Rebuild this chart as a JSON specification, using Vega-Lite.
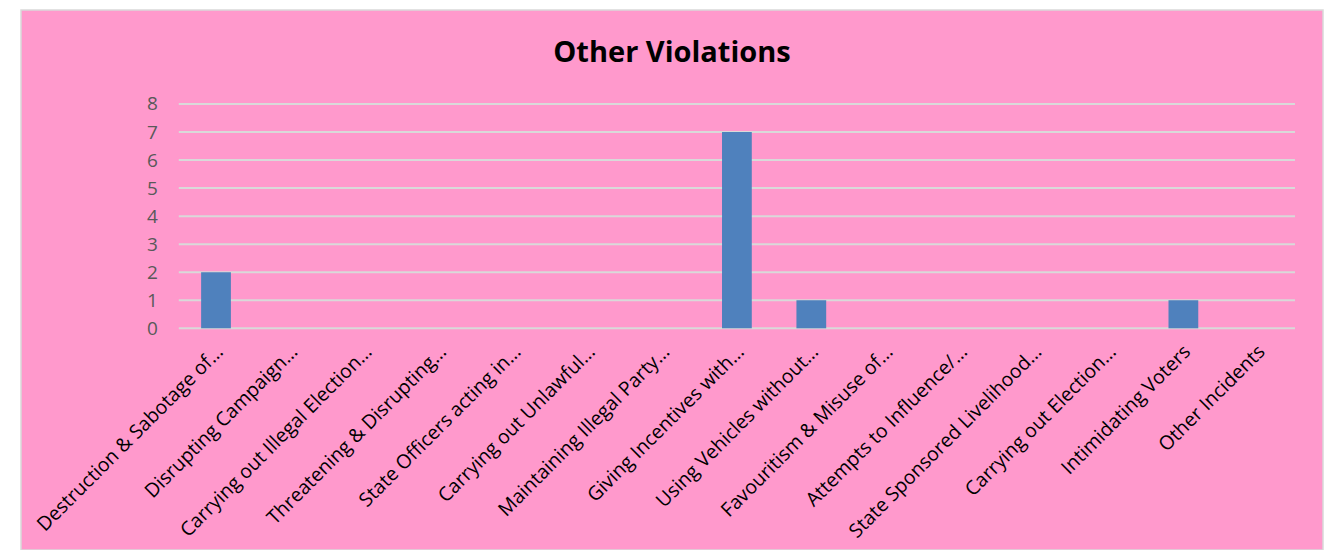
{
  "$schema": "https://vega.github.io/schema/vega-lite/v6.json",
  "width": 1302,
  "height": 540,
  "autosize": {"type": "none"},
  "padding": {"left": 21, "top": 10, "right": 19, "bottom": 0},
  "background": "#FFFFFF",
  "view": {"fill": "#FF99CC", "stroke": "#D9D9D9", "strokeWidth": 1.5},
  "title": {
    "text": "Other Violations",
    "anchor": "middle",
    "frame": "group",
    "font": "Open Sans",
    "fontSize": 29,
    "fontWeight": "bold",
    "color": "#000000",
    "baseline": "alphabetic",
    "offset": -81
  },
  "datasets": {
    "bars": [
      {"category": "Destruction & Sabotage of…", "count": 2},
      {"category": "Disrupting Campaign…", "count": 0},
      {"category": "Carrying out Illegal Election…", "count": 0},
      {"category": "Threatening & Disrupting…", "count": 0},
      {"category": "State Officers acting in…", "count": 0},
      {"category": "Carrying out Unlawful…", "count": 0},
      {"category": "Maintaining Illegal Party…", "count": 0},
      {"category": "Giving Incentives with…", "count": 7},
      {"category": "Using Vehicles without…", "count": 1},
      {"category": "Favouritism & Misuse of…", "count": 0},
      {"category": "Attempts to Influence/…", "count": 0},
      {"category": "State Sponsored Livelihood…", "count": 0},
      {"category": "Carrying out Election…", "count": 0},
      {"category": "Intimidating Voters", "count": 1},
      {"category": "Other Incidents", "count": 0}
    ],
    "grid": [
      {"level": 0, "from": "Destruction & Sabotage of…", "to": "Other Incidents"},
      {"level": 1, "from": "Destruction & Sabotage of…", "to": "Other Incidents"},
      {"level": 2, "from": "Destruction & Sabotage of…", "to": "Other Incidents"},
      {"level": 3, "from": "Destruction & Sabotage of…", "to": "Other Incidents"},
      {"level": 4, "from": "Destruction & Sabotage of…", "to": "Other Incidents"},
      {"level": 5, "from": "Destruction & Sabotage of…", "to": "Other Incidents"},
      {"level": 6, "from": "Destruction & Sabotage of…", "to": "Other Incidents"},
      {"level": 7, "from": "Destruction & Sabotage of…", "to": "Other Incidents"},
      {"level": 8, "from": "Destruction & Sabotage of…", "to": "Other Incidents"}
    ]
  },
  "resolve": {"axis": {"x": "independent", "y": "independent"}},
  "layer": [
    {
      "data": {"name": "grid"},
      "mark": {"type": "rule", "color": "#D9D9D9", "strokeWidth": 2, "xOffset": -37.2, "x2Offset": 37.2},
      "encoding": {
        "y": {"field": "level", "type": "quantitative", "axis": null},
        "x": {"field": "from", "type": "nominal", "axis": null},
        "x2": {"field": "to"}
      }
    },
    {
      "data": {"name": "bars"},
      "mark": {"type": "bar", "color": "#4F81BD"},
      "encoding": {
        "x": {
          "field": "category",
          "type": "nominal",
          "sort": null,
          "scale": {
            "domain": ["Destruction & Sabotage of…", "Disrupting Campaign…", "Carrying out Illegal Election…", "Threatening & Disrupting…", "State Officers acting in…", "Carrying out Unlawful…", "Maintaining Illegal Party…", "Giving Incentives with…", "Using Vehicles without…", "Favouritism & Misuse of…", "Attempts to Influence/…", "State Sponsored Livelihood…", "Carrying out Election…", "Intimidating Voters", "Other Incidents"],
            "range": [157.8, 1274],
            "paddingInner": 0.6,
            "paddingOuter": 0.3,
            "align": 0.5
          },
          "axis": {
            "title": null,
            "domain": false,
            "ticks": false,
            "grid": false,
            "labelAngle": -45,
            "labelAlign": "right",
            "labelBaseline": "middle",
            "labelFont": "Open Sans",
            "labelFontSize": 19.5,
            "labelColor": "#000000",
            "labelPadding": 20,
            "labelOffset": 4,
            "labelLimit": 1000,
            "labelOverlap": false,
            "offset": -221.7
          }
        },
        "y": {
          "field": "count",
          "type": "quantitative",
          "scale": {"domain": [-7.907, 11.352], "nice": false, "zero": false},
          "axis": {
            "title": null,
            "values": [0, 1, 2, 3, 4, 5, 6, 7, 8],
            "domain": false,
            "ticks": false,
            "grid": false,
            "labelFont": "Open Sans",
            "labelFontSize": 19,
            "labelColor": "#595959",
            "labelPadding": 21.5,
            "offset": -157.8
          }
        },
        "y2": {"datum": 0}
      }
    }
  ]
}
